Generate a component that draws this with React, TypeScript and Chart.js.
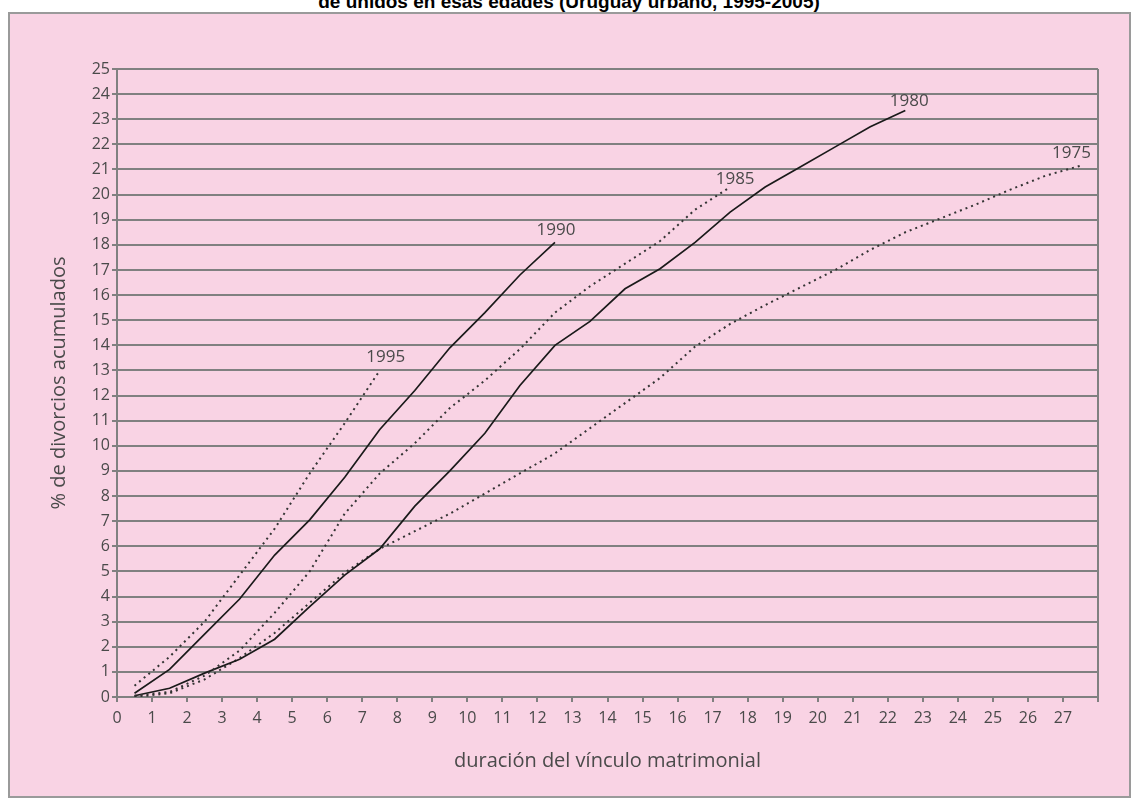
import React, { useEffect, useRef } from "react";
import { Chart, registerables } from "chart.js";

Chart.register(...registerables);

// Duración del vínculo (años, puntos medios)
const durations = [0.5, 1.5, 2.5, 3.5, 4.5, 5.5, 6.5, 7.5, 8.5, 9.5, 10.5, 11.5, 12.5, 13.5, 14.5, 15.5, 16.5, 17.5, 18.5, 19.5, 20.5, 21.5, 22.5, 23.5, 24.5, 25.5, 26.5, 27.5];

const seriesNames = ["1995", "1990", "1985", "1980", "1975"];

const s1995 = [0.45, 1.6, 3.0, 4.85, 6.7, 8.9, 10.9, 13.0];
const s1990 = [0.15, 1.1, 2.5, 3.9, 5.65, 7.05, 8.75, 10.65, 12.2, 13.9, 15.3, 16.8, 18.1];
const s1985 = [0.05, 0.2, 0.85, 1.85, 3.35, 5.0, 7.3, 8.9, 10.1, 11.5, 12.6, 13.85, 15.3, 16.35, 17.25, 18.15, 19.4, 20.3];
const s1980 = [0.05, 0.35, 0.95, 1.5, 2.3, 3.6, 4.85, 5.9, 7.6, 9.0, 10.5, 12.4, 14.0, 14.95, 16.25, 17.05, 18.1, 19.3, 20.3, 21.1, 21.9, 22.7, 23.35];
const s1975 = [0.0, 0.15, 0.7, 1.55, 2.55, 3.75, 4.95, 5.9, 6.6, 7.3, 8.1, 8.9, 9.7, 10.7, 11.7, 12.7, 13.95, 14.85, 15.6, 16.3, 17.0, 17.8, 18.5, 19.05, 19.6, 20.2, 20.75, 21.15];

const seriesValues = [s1995, s1990, s1985, s1980, s1975];
const seriesDotted = [true, false, true, false, true];

const xTitle = "duración del vínculo matrimonial";
const yTitle = "% de divorcios acumulados";
const chartTitle = "de unidos en esas edades (Uruguay urbano, 1995-2005)";

const FONT = "'Open Sans', 'DejaVu Sans', sans-serif";
const GRID = "#808080";
const TEXT = "#4a4a4a";

// label offsets relative to the last point of each line
const labelOffsets = [
  [6, -13],
  [1, -12],
  [5, -8],
  [4, -9],
  [-9, -13],
];

const endLabelPlugin = {
  id: "endLabels",
  afterDatasetsDraw(chart: any) {
    const ctx = chart.ctx;
    ctx.save();
    ctx.font = `17px ${FONT}`;
    ctx.fillStyle = TEXT;
    ctx.textAlign = "center";
    ctx.textBaseline = "middle";
    chart.data.datasets.forEach((ds: any, i: number) => {
      const meta = chart.getDatasetMeta(i);
      const last = meta.data[meta.data.length - 1];
      if (!last) return;
      const [dx, dy] = labelOffsets[i];
      ctx.fillText(ds.label, last.x + dx, last.y + dy);
    });
    ctx.restore();
  },
};

export default function App() {
  const ref = useRef<HTMLCanvasElement | null>(null);

  useEffect(() => {
    if (!ref.current) return;
    const datasets = seriesNames.map((name, i) => ({
      label: name,
      data: seriesValues[i].map((v, j) => ({ x: durations[j], y: v })),
      borderColor: seriesDotted[i] ? "#333333" : "#1a1a1a",
      borderWidth: seriesDotted[i] ? 2 : 1.7,
      borderDash: seriesDotted[i] ? [2, 4] : [],
      pointRadius: 0,
      tension: 0,
      fill: false,
    }));

    const chart = new Chart(ref.current, {
      type: "line",
      data: { datasets },
      options: {
        animation: false,
        responsive: false,
        maintainAspectRatio: false,
        layout: { padding: { left: 43, top: 69, right: 40, bottom: 22 } },
        plugins: {
          legend: { display: false },
          tooltip: { enabled: false },
        },
        scales: {
          x: {
            type: "linear",
            min: 0,
            max: 28,
            ticks: {
              stepSize: 1,
              autoSkip: false,
              maxRotation: 0,
              padding: 7,
              color: TEXT,
              font: { family: FONT, size: 16 },
              callback: (v: any) => (Number(v) === 28 ? "" : String(v)),
            },
            grid: {
              color: (c: any) => (c.tick && c.tick.value === 28 ? GRID : "rgba(0,0,0,0)"),
              tickColor: GRID,
              tickLength: 5,
              lineWidth: 2,
            },
            border: { color: GRID, width: 2 },
            title: {
              display: true,
              text: xTitle,
              color: TEXT,
              font: { family: FONT, size: 20 },
              padding: 4,
            },
            afterFit: (s: any) => {
              s.height = 80;
            },
          },
          y: {
            min: 0,
            max: 25,
            ticks: {
              stepSize: 1,
              autoSkip: false,
              padding: 2,
              color: TEXT,
              font: { family: FONT, size: 16 },
            },
            grid: {
              color: GRID,
              tickColor: GRID,
              tickLength: 5,
              lineWidth: 2,
            },
            border: { color: GRID, width: 2 },
            title: {
              display: true,
              text: yTitle,
              color: TEXT,
              font: { family: FONT, size: 20 },
              padding: 4,
            },
            afterFit: (s: any) => {
              s.width = 74;
            },
          },
        },
      },
      plugins: [endLabelPlugin],
    });
    return () => chart.destroy();
  }, []);

  return (
    <div
      style={{
        position: "fixed",
        left: 0,
        top: 0,
        width: 1138,
        height: 799,
        background: "#ffffff",
        overflow: "hidden",
      }}
    >
      <div
        style={{
          position: "absolute",
          left: 0,
          top: -8,
          width: 1138,
          textAlign: "center",
          fontFamily: "'Liberation Sans', Arial, sans-serif",
          fontWeight: "bold",
          fontSize: 19,
          lineHeight: "20px",
          color: "#000",
        }}
      >
        {chartTitle}
      </div>
      <div
        style={{
          position: "absolute",
          left: 8,
          top: 12,
          width: 1123,
          height: 786,
          boxSizing: "border-box",
          background: "#f9d3e4",
          border: "2px solid #9a9a9a",
        }}
      />
      <canvas
        ref={ref}
        width={1138}
        height={799}
        style={{ position: "absolute", left: 0, top: 0, width: 1138, height: 799 }}
      />
    </div>
  );
}
